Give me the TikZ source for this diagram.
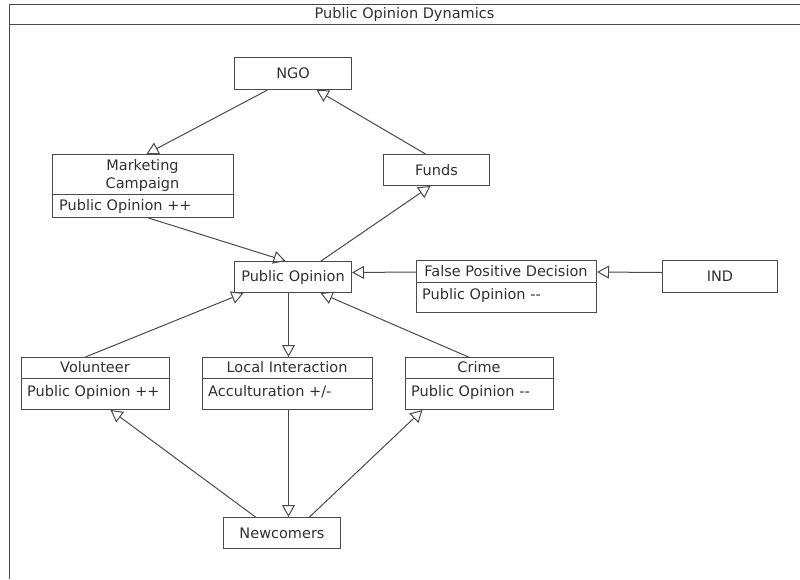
\documentclass[tikz,border=0pt]{standalone}
\usepackage{fontspec}
\setmainfont{DejaVu Sans}
\usetikzlibrary{arrows.meta}
\definecolor{linec}{HTML}{4A4A4A}
\definecolor{textc}{HTML}{303030}
\begin{document}
\begin{tikzpicture}[x=1pt,y=-1pt,
  box/.style={draw=linec, line width=1pt, inner sep=0pt, anchor=north west},
  lbl/.style={text=textc, inner sep=0pt, font=\fontsize{14.5}{17}\selectfont},
  attr/.style={lbl, anchor=west},
  divider/.style={draw=linec, line width=1pt},
  gen/.style={draw=linec, line width=1pt, -{Triangle[open, length=12pt, width=13pt]}}
]
\useasboundingbox (0,0) rectangle (800,579);
% frame
\draw[linec, line width=1pt] (9,579) -- (9,4) -- (800,4);
\draw[linec, line width=1pt] (9,24) -- (800,24);
\node[lbl] (title) at (404.5,14.5) {Public Opinion Dynamics};

% NGO
\node[box, minimum width=117pt, minimum height=32pt] (ngo) at (234,57) {};
\node[lbl] (ngot) at (ngo.center) {NGO};
% Funds
\node[box, minimum width=106pt, minimum height=31pt] (funds) at (383,154) {};
\node[lbl] (fundst) at (funds.center) {Funds};
% Marketing Campaign
\node[box, minimum width=181pt, minimum height=63pt] (mkt) at (52,154) {};
\draw[divider] ([yshift=-40pt]mkt.north west) -- ([yshift=-40pt]mkt.north east);
\node[lbl] (mkt1) at (142.5,166) {Marketing};
\node[lbl] (mkt2) at (142.5,184) {Campaign};
\node[attr] (mkta) at (59,206) {Public Opinion ++};
% Public Opinion
\node[box, minimum width=117pt, minimum height=31pt] (po) at (234,261) {};
\node[lbl] (pot) at (po.center) {Public Opinion};
% False Positive Decision
\node[box, minimum width=180pt, minimum height=52pt] (fpd) at (416,260) {};
\draw[divider] ([yshift=-22pt]fpd.north west) -- ([yshift=-22pt]fpd.north east);
\node[lbl] (fpdt) at (506,271) {False Positive Decision};
\node[attr] (fpda) at (422,295.5) {Public Opinion -{}-};
% IND
\node[box, minimum width=115pt, minimum height=32pt] (ind) at (662,260) {};
\node[lbl] (indt) at (ind.center) {IND};
% Volunteer
\node[box, minimum width=148pt, minimum height=52pt] (vol) at (21,357) {};
\draw[divider] ([yshift=-21pt]vol.north west) -- ([yshift=-21pt]vol.north east);
\node[lbl] (volt) at (95,367.5) {Volunteer};
\node[attr] (vola) at (27,392) {Public Opinion ++};
% Local Interaction
\node[box, minimum width=170pt, minimum height=52pt] (li) at (202,357) {};
\draw[divider] ([yshift=-21pt]li.north west) -- ([yshift=-21pt]li.north east);
\node[lbl] (lit) at (287,367.5) {Local Interaction};
\node[attr] (lia) at (208,392) {Acculturation +/-};
% Crime
\node[box, minimum width=148pt, minimum height=52pt] (crime) at (405,357) {};
\draw[divider] ([yshift=-21pt]crime.north west) -- ([yshift=-21pt]crime.north east);
\node[lbl] (crimet) at (479,367.5) {Crime};
\node[attr] (crimea) at (411,392) {Public Opinion -{}-};
% Newcomers
\node[box, minimum width=117pt, minimum height=31pt] (nc) at (223,517) {};
\node[lbl] (nct) at (nc.center) {Newcomers};

% connectors
\draw[gen] ([xshift=-25.5pt]ngo.south) -- ([xshift=3.5pt]mkt.north);
\draw[gen] ([xshift=-11pt]funds.north) -- ([xshift=23.5pt]ngo.south);
\draw[gen] ([xshift=5.5pt]mkt.south) -- ([xshift=-7.5pt]po.north);
\draw[gen] ([xshift=28pt]po.north) -- ([xshift=-6pt]funds.south);
\draw[gen] ([yshift=-12pt]fpd.north west) -- ([yshift=4.5pt]po.east);
\draw[gen] ([yshift=4pt]ind.west) -- ([yshift=-12pt]fpd.north east);
\draw[gen] ([xshift=-10pt]vol.north) -- ([xshift=-49.5pt]po.south);
\draw[gen] ([xshift=-4.5pt]po.south) -- ([xshift=1pt]li.north);
\draw[gen] ([xshift=-11pt]crime.north) -- ([xshift=27.5pt]po.south);
\draw[gen] ([xshift=-26.5pt]nc.north) -- ([xshift=15pt]vol.south);
\draw[gen] ([xshift=1pt]li.south) -- ([xshift=6.5pt]nc.north);
\draw[gen] ([xshift=27.5pt]nc.north) -- ([xshift=-57pt]crime.south);
\end{tikzpicture}
\end{document}
